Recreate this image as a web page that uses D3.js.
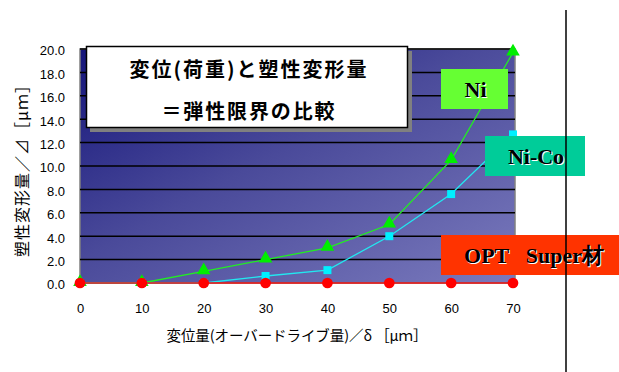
<!DOCTYPE html>
<html>
<head>
<meta charset="utf-8">
<script src="https://cdn.jsdelivr.net/npm/d3@7/dist/d3.min.js"></script>
<style>
  html, body { margin: 0; padding: 0; background: #fff; }
  svg { display: block; }
</style>
</head>
<body>
<svg id="chart" width="619" height="372"></svg>
<script>
// Displacement (overdrive) vs. plastic deformation for three probe materials
const displacement = [0, 10, 20, 30, 40, 50, 60, 70];
const niValues     = [0, 0, 1.0, 2.0, 3.0, 5.0, 10.5, 19.7];
const niCoValues   = [0, 0, 0, 0.6, 1.1, 4.0, 7.6, 12.7];
const optValues    = [0, 0, 0, 0, 0, 0, 0, 0];
const yTicks = [0, 2, 4, 6, 8, 10, 12, 14, 16, 18, 20];
const titleLines = ["変位(荷重)と塑性変形量", "＝弾性限界の比較"];
const yTitle = "塑性変形量／⊿［μｍ］";
const xTitle = "変位量(オーバードライブ量)／δ ［μｍ］";

const svg = d3.select("#chart");
const plot = { left: 80, top: 49, right: 515, bottom: 283 };

const x = d3.scaleLinear().domain([0, 70]).range([80, 513]);
const y = d3.scaleLinear().domain([0, 20]).range([plot.bottom, plot.top]);

// Plot-area diagonal gradient
const defs = svg.append("defs");
const grad = defs.append("linearGradient").attr("id", "bg")
  .attr("x1", "0%").attr("y1", "0%").attr("x2", "100%").attr("y2", "100%");
grad.append("stop").attr("offset", "0%").attr("stop-color", "#15157a");
grad.append("stop").attr("offset", "45%").attr("stop-color", "#4a4a9a");
grad.append("stop").attr("offset", "100%").attr("stop-color", "#7a7abd");

svg.append("rect")
  .attr("x", plot.left).attr("y", plot.top)
  .attr("width", plot.right - plot.left).attr("height", plot.bottom - plot.top)
  .attr("fill", "url(#bg)")
  .attr("stroke", "#808080").attr("stroke-width", 1.5);

// Horizontal gridlines
svg.append("g").selectAll("line").data(yTicks.slice(1))
  .join("line")
  .attr("x1", plot.left).attr("x2", plot.right)
  .attr("y1", d => y(d)).attr("y2", d => y(d))
  .attr("stroke", "#000").attr("stroke-width", 1.5);

// Y axis tick labels
const yAxis = d3.axisLeft(y).tickValues(yTicks).tickSize(0).tickPadding(15)
  .tickFormat(d3.format(".1f"));
const gy = svg.append("g").attr("transform", `translate(${plot.left},0)`).call(yAxis);
gy.select(".domain").remove();
gy.selectAll("text").attr("font-family", "Liberation Sans, Arial, sans-serif")
  .attr("font-size", 13).attr("fill", "#000").attr("dy", "0.45em");

// X axis tick labels
const xAxis = d3.axisBottom(x).tickValues(displacement).tickSize(0).tickPadding(21)
  .tickFormat(d3.format("d"));
const gx = svg.append("g").attr("transform", `translate(0,${plot.bottom})`).call(xAxis);
gx.select(".domain").remove();
gx.selectAll("text").attr("font-family", "Liberation Sans, Arial, sans-serif")
  .attr("font-size", 13).attr("fill", "#000");

// Axis titles
svg.append("text")
  .attr("transform", "translate(28,167) rotate(-90)")
  .attr("text-anchor", "middle")
  .attr("font-family", "'Noto Sans CJK JP', sans-serif").attr("font-size", 16)
  .attr("textLength", 180).attr("lengthAdjust", "spacing")
  .text(yTitle);
svg.append("text")
  .attr("x", 297).attr("y", 341)
  .attr("text-anchor", "middle")
  .attr("font-family", "'Noto Sans CJK JP', sans-serif").attr("font-size", 14.5)
  .attr("textLength", 261).attr("lengthAdjust", "spacing")
  .text(xTitle);

// Series
const series = [
  { name: "Ni", values: niValues, color: "#22ee22", marker: "triangle" },
  { name: "Ni-Co", values: niCoValues, color: "#22e8f0", marker: "square" },
  { name: "OPT", values: optValues, color: "#ee1111", marker: "circle" }
];
const line = d3.line().x((d, i) => x(displacement[i])).y(d => y(d));

series.forEach(s => {
  svg.append("path").datum(s.values)
    .attr("d", line).attr("fill", "none")
    .attr("stroke", s.color).attr("stroke-width", 1.3);
  const fill = s.marker === "triangle" ? "#00ee00" : s.marker === "square" ? "#00f0ff" : "#ff0000";
  const sym = s.marker === "triangle" ? d3.symbolTriangle : s.marker === "square" ? d3.symbolSquare : d3.symbolCircle;
  const size = s.marker === "triangle" ? 80 : s.marker === "square" ? 64 : 90;
  svg.append("g").selectAll("path").data(s.values)
    .join("path")
    .attr("transform", (d, i) => `translate(${x(displacement[i])},${y(d) - (s.marker === "triangle" ? 1 : 0)})`)
    .attr("d", d3.symbol().type(sym).size(size))
    .attr("fill", fill);
});

// Title box with drop shadow
svg.append("rect").attr("x", 90).attr("y", 51).attr("width", 322).attr("height", 81).attr("fill", "#808080");
svg.append("rect").attr("x", 86.5).attr("y", 46.5).attr("width", 321).attr("height", 81)
  .attr("fill", "#fff").attr("stroke", "#000").attr("stroke-width", 1.5);
const titleWidths = [237, 173];
titleLines.forEach((t, i) => {
  svg.append("text")
    .attr("x", 248).attr("y", 77 + i * 42)
    .attr("text-anchor", "middle")
    .attr("font-family", "'Noto Sans CJK JP', sans-serif").attr("font-weight", "bold")
    .attr("font-size", 20)
    .attr("textLength", titleWidths[i]).attr("lengthAdjust", "spacing")
    .text(t);
});

// Series labels
const labels = [
  { text: "Ni", x: 441, y: 69, w: 67, h: 40, fill: "#66ff33" },
  { text: "Ni-Co", x: 485, y: 136, w: 100, h: 40, fill: "#00cc99" },
  { text: "OPT\u00a0\u00a0\u00a0Super材", x: 441, y: 235, w: 178, h: 40, fill: "#ff3300" }
];
labels.forEach(l => {
  svg.append("rect").attr("x", l.x).attr("y", l.y).attr("width", l.w).attr("height", l.h).attr("fill", l.fill);
  const cx = l.x + l.w / 2 + (l.w > 150 ? 4 : 1), cy = l.y + l.h / 2 + 7.5;
  [["#ffffff", 1], ["#000000", 0]].forEach(([c, off]) => {
    svg.append("text")
      .attr("x", cx + off).attr("y", cy + off)
      .attr("text-anchor", "middle")
      .attr("font-family", "Liberation Serif, Times New Roman, serif").attr("font-weight", "bold")
      .attr("font-size", 22).attr("fill", c)
      .text(l.text);
  });
});

// Right-hand divider line
svg.append("line").attr("x1", 566).attr("x2", 566).attr("y1", 10).attr("y2", 372)
  .attr("stroke", "#000").attr("stroke-width", 1.5);
</script>
</body>
</html>
